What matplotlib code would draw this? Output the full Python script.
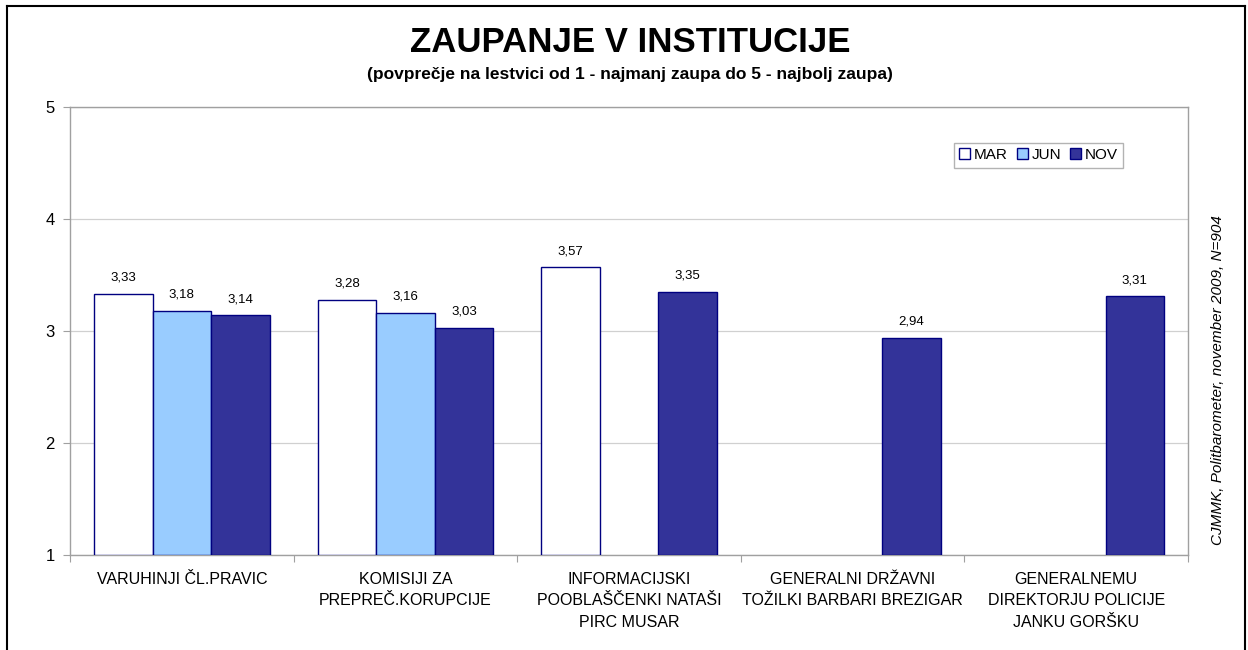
import numpy as np
import matplotlib
matplotlib.use("Agg")
import matplotlib.pyplot as plt
from matplotlib.lines import Line2D

plt.rcParams['font.family'] = ['Liberation Sans', 'DejaVu Sans']

categories = ["VARUHINJI ČL.PRAVIC", "KOMISIJI ZA\nPREPREČ.KORUPCIJE",
              "INFORMACIJSKI\nPOOBLAŠČENKI NATAŠI\nPIRC MUSAR",
              "GENERALNI DRŽAVNI\nTOŽILKI BARBARI BREZIGAR",
              "GENERALNEMU\nDIREKTORJU POLICIJE\nJANKU GORŠKU"]
series_names = ["MAR", "JUN", "NOV"]
mar = [3.33, 3.28, 3.57, np.nan, np.nan]
jun = [3.18, 3.16, np.nan, np.nan, np.nan]
nov = [3.14, 3.03, 3.35, 2.94, 3.31]
yticks = [1, 2, 3, 4, 5]

colors = ["#FFFFFF", "#99CCFF", "#333399"]
edge = "#000080"

fig = plt.figure(figsize=(12.48, 6.5), dpi=100)
ax = fig.add_axes([0.0561, 0.1462, 0.8959, 0.6892])

x = np.arange(len(categories))
w = 0.262
base = 1.0
for i, (vals, name, c) in enumerate(zip([mar, jun, nov], series_names, colors)):
    vals = np.array(vals, dtype=float)
    pos = x + (i - 1) * w
    heights = vals - base
    ax.bar(pos, heights, width=w, bottom=base, color=c, edgecolor=edge,
           linewidth=1.0, label=name, zorder=3)
    for p, v in zip(pos, vals):
        if not np.isnan(v):
            ax.text(p, v + 0.09, f"{v:.2f}".replace(".", ","), ha="center",
                    va="bottom", fontsize=9.5, color="black", zorder=4)

ax.set_xlim(-0.5, len(categories) - 0.5)
ax.set_ylim(1, 5)
ax.set_yticks(yticks)
ax.set_yticklabels([str(t) for t in yticks], fontsize=12)
ax.yaxis.grid(True, color="#D0D0D0", linewidth=0.9, zorder=0)
ax.set_axisbelow(True)

ax.set_xticks(np.arange(-0.5, len(categories), 1.0))
ax.set_xticklabels([])
ax.set_xticks(x, minor=True)
ax.set_xticklabels(categories, minor=True, fontsize=11.5, linespacing=1.55)
ax.tick_params(axis="x", which="minor", length=0, pad=12)
ax.tick_params(axis="x", which="major", length=5, color="#A0A0A0")
ax.tick_params(axis="y", length=5, color="#A0A0A0", pad=6)

for s in ax.spines.values():
    s.set_color("#A0A0A0")
    s.set_linewidth(1.0)

leg = ax.legend(loc="upper left", bbox_to_anchor=(0.7907, 0.92), ncol=3,
                frameon=True, fancybox=False, fontsize=11, handlelength=0.7,
                handleheight=0.7, handletextpad=0.25, columnspacing=0.6,
                borderpad=0.35, borderaxespad=0)
leg.get_frame().set_edgecolor("#A0A0A0")
leg.get_frame().set_linewidth(1.0)

fig.text(0.505, 0.935, "ZAUPANJE V INSTITUCIJE", ha="center", va="center",
         fontsize=25, fontweight="bold")
fig.text(0.505, 0.886, "(povprečje na lestvici od 1 - najmanj zaupa do 5 - najbolj zaupa)",
         ha="center", va="center", fontsize=12.5, fontweight="bold")
fig.text(0.976, 0.415, "CJMMK, Politbarometer, november 2009, N=904", rotation=90,
         ha="center", va="center", fontsize=11, style="italic")

for xs, ys in [([0.0056, 0.0056], [0.0, 0.991]), ([0.0056, 0.9976], [0.991, 0.991]),
               ([0.9976, 0.9976], [0.0, 0.991])]:
    fig.add_artist(Line2D(xs, ys, color="black", linewidth=1.5, transform=fig.transFigure))

fig.savefig("out.png", dpi=100)
